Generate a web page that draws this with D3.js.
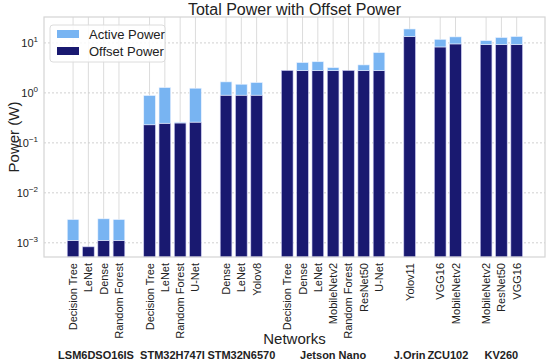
<!DOCTYPE html>
<html>
<head>
<meta charset="utf-8">
<script src="https://cdn.jsdelivr.net/npm/d3@7"></script>
<style>
  body { margin: 0; background: #fff; }
  text { font-family: "Liberation Sans", Arial, sans-serif; fill: #222; }
</style>
</head>
<body>
<div id="chart"></div>
<script>
// slot index for each bar (groups separated by one empty slot)
var slots = [0, 1, 2, 3, 5, 6, 7, 8, 10, 11, 12, 14, 15, 16, 17, 18, 19, 20, 22, 24, 25, 27, 28, 29];
var networks = ["Decision Tree", "LeNet", "Dense", "Random Forest",
  "Decision Tree", "LeNet", "Random Forest", "U-Net",
  "Dense", "LeNet", "Yolov8",
  "Decision Tree", "Dense", "LeNet", "MobileNetv2", "Random Forest", "ResNet50", "U-Net",
  "Yolov11", "VGG16", "MobileNetv2", "MobileNetv2", "ResNet50", "VGG16"];
var offsetPower = [0.00112, 0.00083, 0.00112, 0.00112,
  0.23, 0.247, 0.25, 0.26,
  0.9, 0.9, 0.9,
  2.8, 2.8, 2.8, 2.8, 2.8, 2.8, 2.8,
  13.4, 8.3, 9.55, 9.26, 9.26, 9.26];
var activePower = [0.0018, 0, 0.0019, 0.0018,
  0.655, 1.03, 0.01, 0.98,
  0.76, 0.59, 0.71,
  0, 1.24, 1.4, 0.4, 0, 0.83, 3.6,
  5.6, 3.5, 3.65, 1.84, 3.54, 4.14];
var groups = ["LSM6DSO16IS", "STM32H747I", "STM32N6570", "Jetson Nano", "J.Orin", "ZCU102", "KV260"];
var groupCenters = [1.5, 6.5, 11, 17, 22, 24.5, 28];
var yTicks = [1e-3, 1e-2, 1e-1, 1e0, 1e1];
var yTickExp = ["\u22123", "\u22122", "\u22121", "0", "1"];

var W = 550, H = 363;
var margin = {top: 17, right: 5, bottom: 106, left: 44};
var innerW = W - margin.left - margin.right,
    innerH = H - margin.top - margin.bottom;

var colActive = "#78b4f2", colOffset = "#191970";

var svg = d3.select("#chart").append("svg")
  .attr("width", W).attr("height", H);

var g = svg.append("g")
  .attr("transform", "translate(" + margin.left + "," + margin.top + ")");

var x = d3.scaleLinear().domain([-1.9, 30.85]).range([0, innerW]);
var y = d3.scaleLog().domain([5.2e-4, 33]).range([innerH, 0]);
var bw = x(0.76) - x(0);

// grid
g.append("g").selectAll("line").data(slots).enter().append("line")
  .attr("x1", d => x(d)).attr("x2", d => x(d))
  .attr("y1", 0).attr("y2", innerH)
  .attr("stroke", "#dcdcdc").attr("stroke-width", 1);
g.append("g").selectAll("line").data(yTicks).enter().append("line")
  .attr("x1", 0).attr("x2", innerW)
  .attr("y1", d => y(d)).attr("y2", d => y(d))
  .attr("stroke", "#d0d0d0").attr("stroke-width", 1)
  .attr("stroke-dasharray", "2,2");

// bars
var bars = g.append("g");
slots.forEach(function(s, i) {
  var off = offsetPower[i], tot = off + activePower[i];
  bars.append("rect")
    .attr("x", x(s) - bw / 2).attr("width", bw)
    .attr("y", y(off)).attr("height", innerH - y(off))
    .attr("fill", colOffset).attr("stroke", "#c8c8f0").attr("stroke-width", 0.6);
  if (activePower[i] > 0) {
    bars.append("rect")
      .attr("x", x(s) - bw / 2).attr("width", bw)
      .attr("y", y(tot)).attr("height", y(off) - y(tot))
      .attr("fill", colActive).attr("stroke", "#eaf2ff").attr("stroke-width", 0.6);
  }
});

// frame
g.append("rect").attr("width", innerW).attr("height", innerH)
  .attr("fill", "none").attr("stroke", "#d4d4d4").attr("stroke-width", 1.2);

// y tick labels
var yl = g.append("g").selectAll("text").data(yTicks).enter().append("text")
  .attr("x", -6).attr("y", d => y(d) + 4)
  .attr("text-anchor", "end").style("font-size", "11px");
yl.append("tspan").text("10");
yl.append("tspan").attr("dy", -5).style("font-size", "8px").text((d, i) => yTickExp[i]);

// x tick labels
g.append("g").selectAll("text").data(slots).enter().append("text")
  .attr("transform", d => "translate(" + (x(d) + 4) + "," + (innerH + 6) + ") rotate(-90)")
  .attr("text-anchor", "end").style("font-size", "11px")
  .text((d, i) => networks[i]);

// group labels
g.append("g").selectAll("text").data(groups).enter().append("text")
  .attr("x", (d, i) => x(groupCenters[i])).attr("y", 342)
  .attr("text-anchor", "middle").style("font-size", "11px").style("font-weight", "bold")
  .text(d => d);

// axis titles
svg.append("text").attr("x", margin.left + innerW / 2).attr("y", 344)
  .attr("text-anchor", "middle").style("font-size", "15px").text("Networks");
svg.append("text")
  .attr("transform", "translate(19," + (margin.top + innerH / 2) + ") rotate(-90)")
  .attr("text-anchor", "middle").style("font-size", "15px").text("Power (W)");
svg.append("text").attr("x", margin.left + innerW / 2).attr("y", 15)
  .attr("text-anchor", "middle").style("font-size", "16px").text("Total Power with Offset Power");

// legend
var lg = g.append("g").attr("transform", "translate(6,8)");
lg.append("rect").attr("width", 115).attr("height", 37).attr("rx", 3)
  .attr("fill", "#fff").attr("fill-opacity", 0.85).attr("stroke", "#dcdcdc");
var legendItems = [["Active Power", colActive], ["Offset Power", colOffset]];
legendItems.forEach(function(it, i) {
  lg.append("rect").attr("x", 7).attr("y", 5 + i * 17).attr("width", 22).attr("height", 8)
    .attr("fill", it[1]);
  lg.append("text").attr("x", 39).attr("y", 13.5 + i * 17)
    .style("font-size", "13px").text(it[0]);
});
</script>
</body>
</html>
